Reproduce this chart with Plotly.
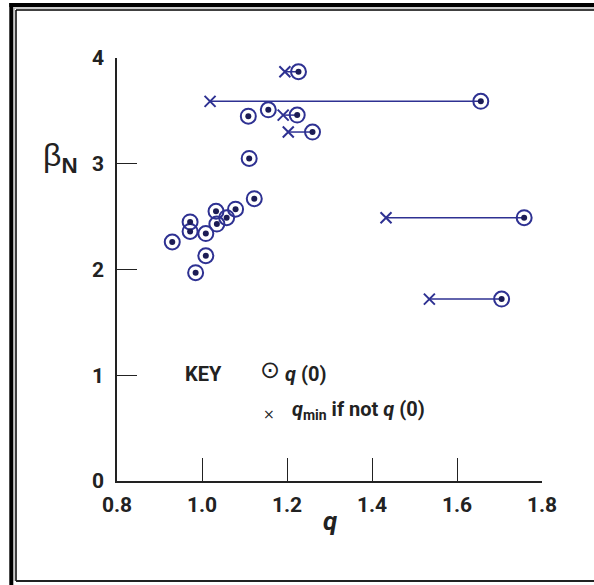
import plotly.graph_objects as go

# q(0) values and beta_N
q0 = [1.227, 1.109, 1.156, 1.224, 1.260, 1.111, 1.656, 1.758, 1.705, 1.123,
      1.079, 1.033, 1.058, 1.035, 0.972, 0.972, 1.009, 0.930, 1.009, 0.985]
betaN = [3.87, 3.45, 3.51, 3.46, 3.30, 3.05, 3.59, 2.49, 1.72, 2.67,
         2.57, 2.55, 2.49, 2.43, 2.45, 2.36, 2.34, 2.26, 2.13, 1.97]
# q_min where it differs from q(0)
qmin = [1.195, None, None, 1.191, 1.203, None, 1.019, 1.433, 1.535, None,
        None, None, None, None, None, None, None, None, None, None]

xticks = [0.8, 1.0, 1.2, 1.4, 1.6, 1.8]
xticktext = ["0.8", "1.0", "1.2", "1.4", "1.6", "1.8"]
yticks = [0, 1, 2, 3, 4]
yticktext = ["0", "1", "2", "3", "4"]

BLUE = "#2e3192"
DOT = "#1c1c55"
FONT = "Roboto"

fig = go.Figure()

# horizontal connectors from q_min to q(0)
lx, ly = [], []
for a, b, m in zip(q0, betaN, qmin):
    if m is not None:
        lx += [m, a, None]
        ly += [b, b, None]
fig.add_trace(go.Scatter(x=lx, y=ly, mode="lines",
                         line=dict(color=BLUE, width=1.5), hoverinfo="skip"))

mx = [m for m in qmin if m is not None]
my = [b for b, m in zip(betaN, qmin) if m is not None]
fig.add_trace(go.Scatter(x=mx, y=my, mode="markers",
                         marker=dict(symbol="x-thin-open", size=11, color=BLUE,
                                     line=dict(color=BLUE, width=2)),
                         cliponaxis=False))

fig.add_trace(go.Scatter(x=q0, y=betaN, mode="markers",
                         marker=dict(symbol="circle-open", size=15, color=BLUE,
                                     line=dict(color=BLUE, width=2)),
                         cliponaxis=False))
fig.add_trace(go.Scatter(x=q0, y=betaN, mode="markers",
                         marker=dict(symbol="circle", size=6, color=DOT),
                         cliponaxis=False))

L, R, T, B = 117, 542, 58, 481


def px(xp):
    return (xp - L) / (R - L)


def py(yp):
    return (B - yp) / (B - T)


shapes = [
    dict(type="line", xref="paper", yref="paper", x0=px(11.3), x1=px(11.3),
         y0=py(3), y1=py(590), line=dict(color="black", width=4)),
    dict(type="line", xref="paper", yref="paper", x0=px(9.3), x1=px(600),
         y0=py(5), y1=py(5), line=dict(color="black", width=4)),
    dict(type="line", xref="paper", yref="paper", x0=px(14), x1=px(14),
         y0=py(8), y1=py(581), line=dict(color="#999999", width=1)),
    dict(type="line", xref="paper", yref="paper", x0=px(14), x1=px(600),
         y0=py(8), y1=py(8), line=dict(color="#999999", width=1)),
    dict(type="line", xref="paper", yref="paper", x0=px(16), x1=px(16),
         y0=py(10), y1=py(581), line=dict(color="black", width=1.5)),
    dict(type="line", xref="paper", yref="paper", x0=px(16), x1=px(600),
         y0=py(10), y1=py(10), line=dict(color="black", width=1.5)),
    dict(type="line", xref="paper", yref="paper", x0=px(16), x1=px(600),
         y0=py(581), y1=py(581), line=dict(color="#222222", width=2)),
]

ann = [
    dict(xref="paper", yref="paper", x=px(41), y=py(135), xanchor="left",
         text="β<sub><b>N</b></sub>",
         showarrow=False, font=dict(family="Liberation Sans", size=32, color="#222")),
    dict(xref="paper", yref="paper", x=px(330), y=py(538), text="<b><i>q</i></b>",
         showarrow=False, font=dict(family=FONT, size=26, color="#222")),
    dict(xref="paper", yref="paper", x=px(183), y=py(388), xanchor="left",
         text="<b>KEY</b>", showarrow=False, font=dict(family=FONT, size=20, color="#222")),
    dict(xref="paper", yref="paper", x=px(270), y=py(386),
         text="⊙", showarrow=False, font=dict(family="DejaVu Sans", size=24, color="#222")),
    dict(xref="paper", yref="paper", x=px(283), y=py(388), xanchor="left",
         text="<b><i>q</i> (0)</b>", showarrow=False,
         font=dict(family=FONT, size=20, color="#222")),
    dict(xref="paper", yref="paper", x=px(269), y=py(424),
         text="×", showarrow=False, font=dict(family="DejaVu Sans", size=14, color="#222")),
    dict(xref="paper", yref="paper", x=px(290), y=py(425), xanchor="left",
         text="<b><i>q</i><sub>min</sub> if not <i>q</i> (0)</b>", showarrow=False,
         font=dict(family=FONT, size=20, color="#222")),
]

fig.update_layout(
    width=594, height=585,
    margin=dict(l=L, r=594 - R, t=T, b=585 - B),
    plot_bgcolor="white", paper_bgcolor="white",
    showlegend=False,
    shapes=shapes, annotations=ann,
    xaxis=dict(range=[0.8, 1.8], tickvals=xticks, ticktext=xticktext,
               showline=True, linecolor="#222", linewidth=1.5,
               ticks="inside", ticklen=23, tickwidth=1, tickcolor="#222",
               showgrid=False, zeroline=False, ticklabelstandoff=4,
               tickfont=dict(family=FONT, size=21, color="#222", weight="bold")),
    yaxis=dict(range=[0, 4], tickvals=yticks, ticktext=yticktext,
               showline=True, linecolor="#222", linewidth=1.5,
               ticks="inside", ticklen=20, tickwidth=1, tickcolor="#222",
               showgrid=False, zeroline=False, ticklabelstandoff=7,
               tickfont=dict(family=FONT, size=21, color="#222", weight="bold")),
)

fig.write_html("out.html")
